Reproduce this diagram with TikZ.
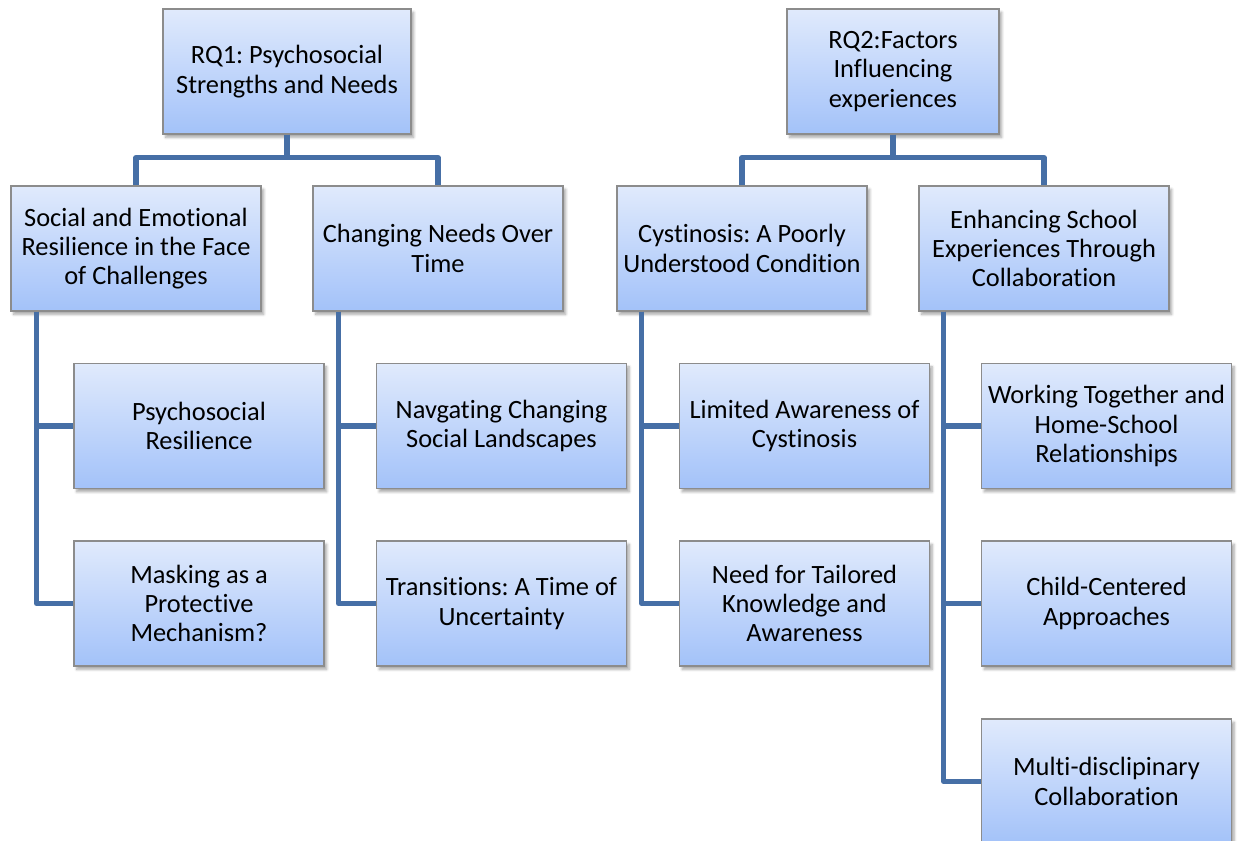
\documentclass[tikz,border=0pt]{standalone}
\usepackage{fontspec}
\setmainfont{Carlito}[Ligatures={NoCommon}]
\frenchspacing
\usetikzlibrary{shadows.blur}

\definecolor{linkblue}{RGB}{70,111,166}
\definecolor{boxtop}{RGB}{224,234,252}
\definecolor{boxbot}{RGB}{163,194,249}
\definecolor{boxedge}{RGB}{140,140,140}

\tikzset{
  topic/.style={draw=boxedge, line width=0.8pt, top color=boxtop, bottom color=boxbot,
    minimum width=187.5pt, minimum height=93.75pt, inner sep=2pt, align=center,
    font=\fontsize{19.8}{21.9}\selectfont,
    blur shadow={shadow xshift=2pt, shadow yshift=-2.5pt, shadow blur steps=6, shadow opacity=35}},
  link/.style={draw=linkblue, line width=3.8pt, line join=round}
}

\begin{document}
\begin{tikzpicture}[x=0.75pt, y=-0.75pt]
\useasboundingbox (0,0) rectangle (1237,840);

% research questions
\node[topic, minimum width=186pt] (rq1) at (287,71.5) {RQ1: Psychosocial\\Strengths and Needs};
\node[topic, minimum width=159pt] (rq2) at (893,71.5) {RQ2:Factors\\Influencing\\experiences};

% themes
\node[topic] (social) at (136,248.5) {Social and Emotional\\Resilience in the Face\\of Challenges};
\node[topic] (changing) at (438,248.5) {Changing Needs Over\\Time};
\node[topic] (cyst) at (742,248.5) {Cystinosis: A Poorly\\Understood Condition};
\node[topic] (enh) at (1044,248.5) {Enhancing School\\Experiences Through\\Collaboration};

% subthemes
\node[topic] (psyres) at (199,426) {Psychosocial\\Resilience};
\node[topic] (mask) at (199,603.5) {Masking as a\\Protective\\Mechanism?};
\node[topic] (navig) at (501.5,426) {Navgating Changing\\Social Landscapes};
\node[topic] (trans) at (501.5,603.5) {Transitions: A Time of\\Uncertainty};
\node[topic] (aware) at (804.5,426) {Limited Awareness of\\Cystinosis};
\node[topic] (tailor) at (804.5,603.5) {Need for Tailored\\Knowledge and\\Awareness};
\node[topic] (work) at (1106.5,426) {Working Together and\\Home-School\\Relationships};
\node[topic] (child) at (1106.5,603.5) {Child-Centered\\Approaches};
\node[topic] (multi) at (1106.5,781.5) {Multi-disclipinary\\Collaboration};

% question to theme connectors
\draw[link] (rq1.south) -- ++(0,23) -| (social.north);
\draw[link] (rq1.south) -- ++(0,23) -| (changing.north);
\draw[link] (rq2.south) -- ++(0,23) -| (cyst.north);
\draw[link] (rq2.south) -- ++(0,23) -| (enh.north);

% theme to subtheme spines
\draw[link] ([xshift=19.5pt]social.south west) |- (psyres.west);
\draw[link] ([xshift=19.5pt]social.south west) |- (mask.west);
\draw[link] ([xshift=19.5pt]changing.south west) |- (navig.west);
\draw[link] ([xshift=19.5pt]changing.south west) |- (trans.west);
\draw[link] ([xshift=19pt]cyst.south west) |- (aware.west);
\draw[link] ([xshift=19pt]cyst.south west) |- (tailor.west);
\draw[link] ([xshift=19pt]enh.south west) |- (work.west);
\draw[link] ([xshift=19pt]enh.south west) |- (child.west);
\draw[link] ([xshift=19pt]enh.south west) |- (multi.west);
\end{tikzpicture}
\end{document}
